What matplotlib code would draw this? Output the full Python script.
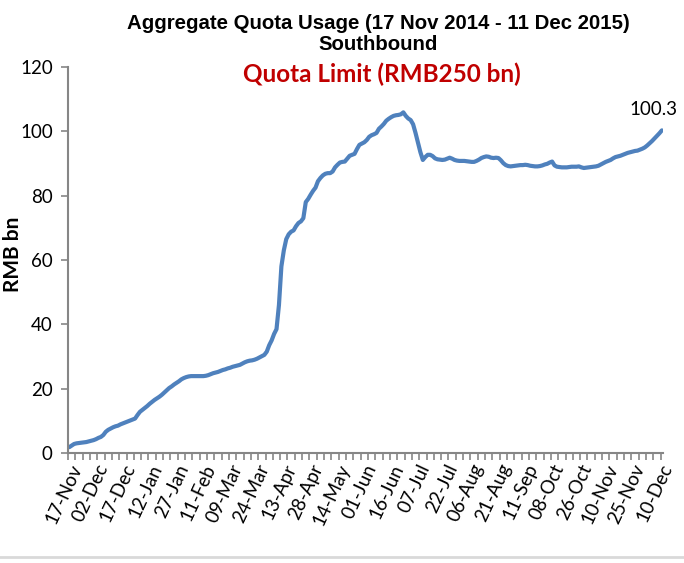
import numpy as np
from matplotlib import pyplot as plt
from matplotlib.lines import Line2D

# aggregate quota usage, RMB bn, one value per southbound trading day
usage = [
    1.8, 2.3, 2.8, 3.0, 3.1, 3.2, 3.3, 3.4, 3.6, 3.8,
    4.0, 4.3, 4.7, 5.0, 5.6, 6.6, 7.2, 7.6, 8.0, 8.3,
    8.5, 8.9, 9.2, 9.5, 9.8, 10.1, 10.4, 10.7, 11.8, 12.8,
    13.4, 14.0, 14.6, 15.3, 15.9, 16.5, 17.0, 17.5, 18.1, 18.8,
    19.5, 20.2, 20.7, 21.3, 21.8, 22.3, 22.9, 23.3, 23.6, 23.8,
    23.9, 23.9, 23.9, 23.9, 23.9, 23.9, 24.0, 24.2, 24.5, 24.8,
    25.0, 25.2, 25.5, 25.8, 26.0, 26.3, 26.5, 26.8, 27.0, 27.2,
    27.4, 27.8, 28.2, 28.5, 28.7, 28.8, 29.0, 29.3, 29.7, 30.1,
    30.5, 31.5, 33.5, 35.0, 37.0, 38.5, 46.0, 58.0, 63.0, 66.5,
    68.0, 68.8, 69.2, 70.5, 71.5, 72.0, 73.0, 78.0, 79.0, 80.3,
    81.5, 82.5, 84.5, 85.5, 86.3, 86.8, 87.0, 87.0, 87.5, 88.8,
    89.6, 90.3, 90.5, 90.6, 91.5, 92.4, 92.7, 93.0, 94.5, 95.8,
    96.2, 96.6, 97.3, 98.3, 98.8, 99.1, 99.5, 100.8, 101.5, 102.3,
    103.3, 103.9, 104.4, 104.8, 105.0, 105.1, 105.3, 105.9, 104.8, 104.0,
    103.5, 102.2, 99.5, 96.5, 93.5, 91.1, 92.0, 92.7, 92.7, 92.3,
    91.6, 91.3, 91.2, 91.1, 91.2, 91.5, 91.8, 91.5, 91.1, 90.9,
    90.8, 90.8, 90.8, 90.7, 90.6, 90.5, 90.5, 90.8, 91.2, 91.7,
    92.0, 92.2, 92.1, 91.8, 91.7, 91.8, 91.7, 91.0, 90.1, 89.5,
    89.2, 89.1, 89.2, 89.3, 89.4, 89.5, 89.5, 89.6, 89.5, 89.3,
    89.2, 89.1, 89.1, 89.2, 89.4, 89.7, 89.9, 90.3, 90.6, 89.4,
    89.0, 88.9, 88.8, 88.8, 88.8, 88.9, 89.0, 89.0, 89.0, 89.1,
    88.8, 88.6, 88.7, 88.8, 88.9, 89.0, 89.1, 89.3, 89.7, 90.1,
    90.5, 90.8, 91.1, 91.6, 92.0, 92.2, 92.4, 92.7, 93.0, 93.3,
    93.5, 93.7, 93.9, 94.0, 94.3, 94.6, 95.0, 95.6, 96.3, 97.0,
    97.8, 98.6, 99.4, 100.3,
]

# every 11th trading day gets a label
date_labels = ['17-Nov', '02-Dec', '17-Dec', '12-Jan', '27-Jan', '11-Feb', '09-Mar',
               '24-Mar', '13-Apr', '28-Apr', '14-May', '01-Jun', '16-Jun', '07-Jul',
               '22-Jul', '06-Aug', '21-Aug', '11-Sep', '08-Oct', '26-Oct', '10-Nov',
               '25-Nov', '10-Dec']
label_step = 11

calibri_like = 'Lato'
axis_grey = '#868686'
label_size = 13.5

fig = plt.figure(figsize=(6.84, 5.63), dpi=100)
ax = fig.add_axes([0.0994, 0.1954, 0.8700, 0.6856])

x = np.arange(len(usage))
ax.plot(x, usage, color='#4F81BD', linewidth=3.0, solid_capstyle='round', solid_joinstyle='round')

ax.set_xlim(-0.5, len(usage) - 0.5)
ax.set_ylim(0, 120)
ax.set_yticks(range(0, 121, 20))

ax.set_xticks(np.arange(0, len(usage), label_step))
ax.set_xticklabels(date_labels, rotation=65, ha='right', rotation_mode='anchor',
                   fontfamily=calibri_like, fontsize=label_size)
ax.set_xticks(np.arange(-0.5, len(usage), 3), minor=True)
ax.tick_params(axis='x', which='major', length=0, pad=6)
ax.tick_params(axis='x', which='minor', length=5, width=1.2, color=axis_grey, direction='out')
ax.tick_params(axis='y', length=5, width=1.2, color=axis_grey, pad=6)
for lab in ax.get_yticklabels():
    lab.set_fontfamily(calibri_like)
    lab.set_fontsize(label_size)

for side in ['top', 'right']:
    ax.spines[side].set_visible(False)
for side in ['left', 'bottom']:
    ax.spines[side].set_color(axis_grey)
    ax.spines[side].set_linewidth(1.5)

ax.set_ylabel('RMB bn', fontfamily=calibri_like, fontweight='bold', fontsize=15)
ax.yaxis.set_label_coords(-0.075, 0.515)

fig.text(0.553, 0.959, 'Aggregate Quota Usage (17 Nov 2014 - 11 Dec 2015)', ha='center', va='center',
         fontfamily='Liberation Sans', fontweight='bold', fontsize=14.7)
fig.text(0.553, 0.921, 'Southbound', ha='center', va='center',
         fontfamily='Liberation Sans', fontweight='bold', fontsize=14.7)
fig.text(0.558, 0.868, 'Quota Limit (RMB250 bn)', ha='center', va='center', color='#C00000',
         fontfamily=calibri_like, fontweight='bold', fontsize=17.5)

ax.annotate(f'{usage[-1]:.1f}', xy=(x[-1], usage[-1]), xytext=(-6, 15), textcoords='offset points',
            ha='center', va='center', fontfamily=calibri_like, fontsize=label_size)

# thin grey rule along the bottom edge of the image
fig.add_artist(Line2D([0, 1], [0.011, 0.011], transform=fig.transFigure, color='#d9d9d9', linewidth=2))

fig.savefig('out.png', dpi=100)
